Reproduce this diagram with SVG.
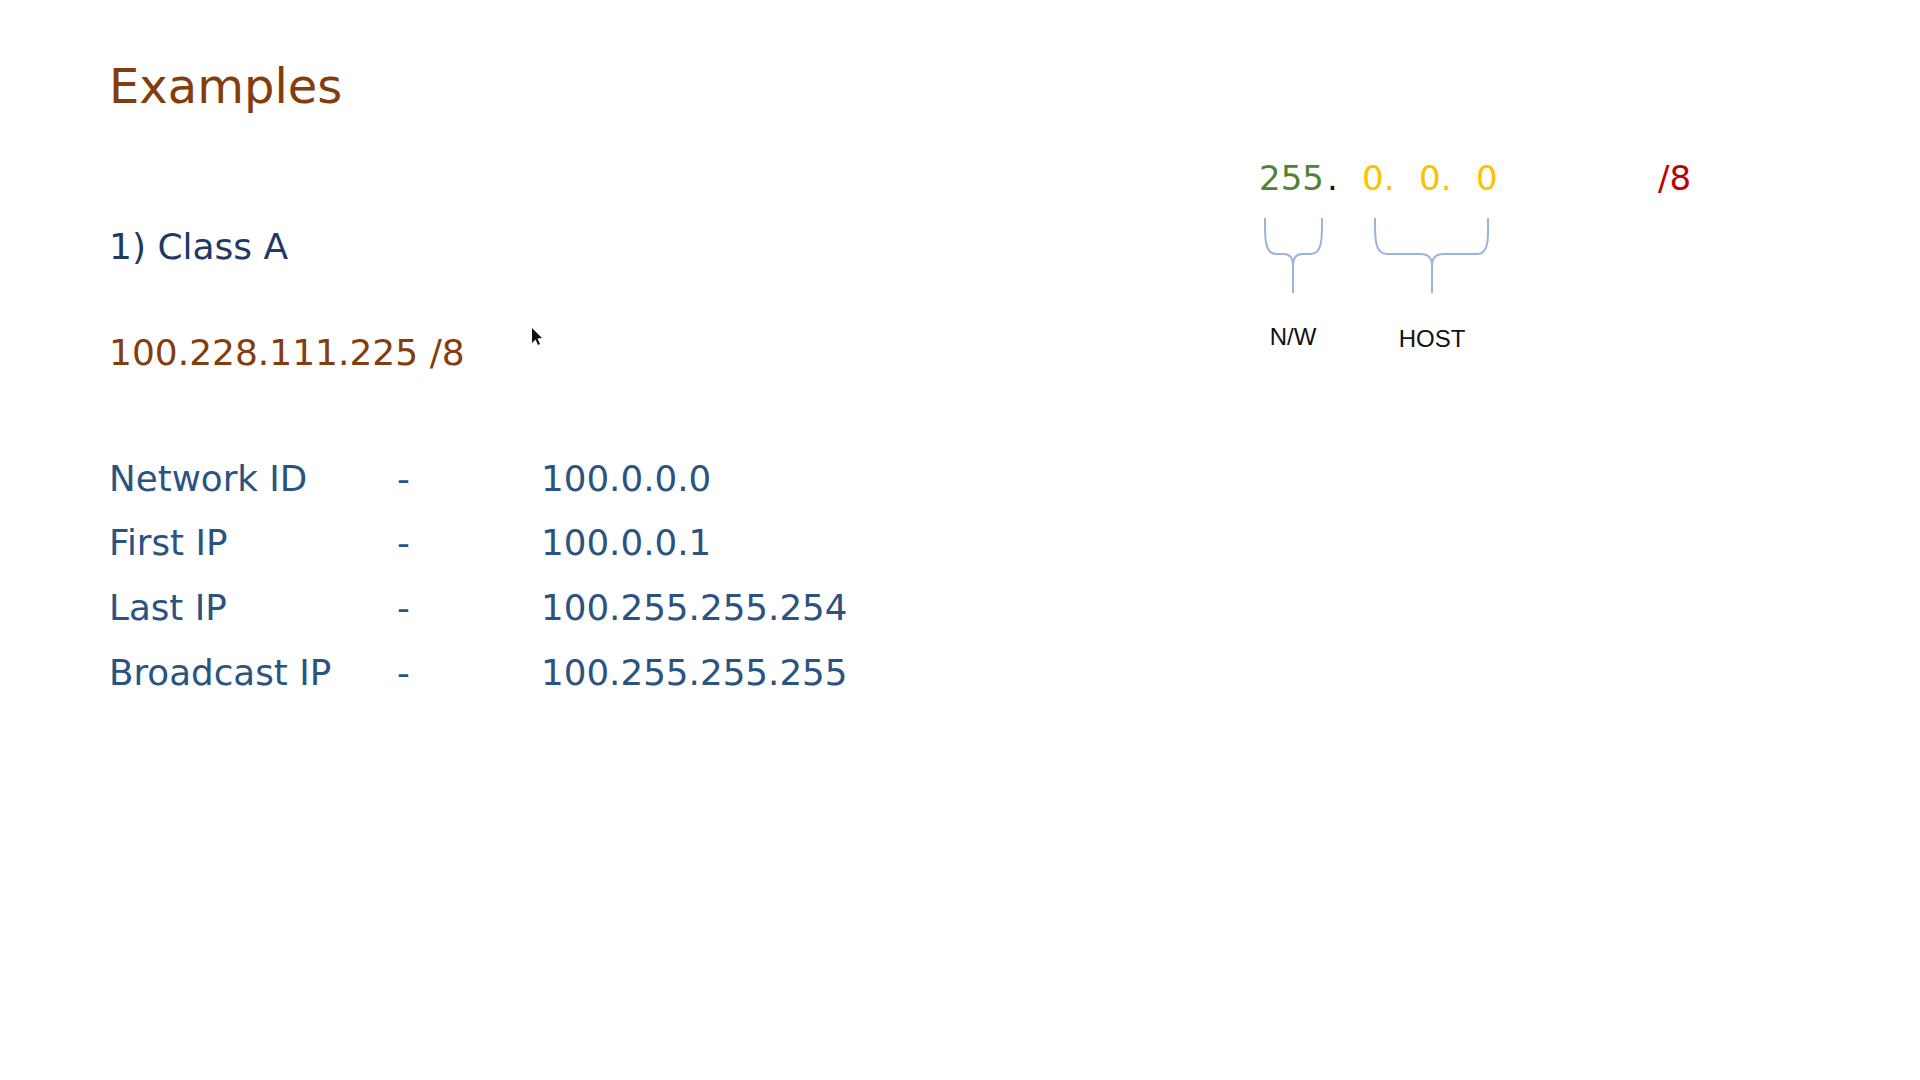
<svg xmlns="http://www.w3.org/2000/svg" width="1920" height="1080" viewBox="0 0 1920 1080">
<style>
text{font-family:"DejaVu Sans","Liberation Sans",sans-serif;}
.title{font-size:48px;fill:#843C0C;}
.h{font-size:36px;fill:#1F3864;}
.ip{font-size:36px;fill:#843C0C;}
.row{font-size:35.7px;fill:#2A5380;}
.mask{font-size:34px;}
.lbl{font-family:"Liberation Sans",Arial,sans-serif;font-size:24px;fill:#111;}
.brace{fill:none;stroke:#9BB3DD;stroke-width:2;}
</style>
<rect width="1920" height="1080" fill="#FFFFFF"/>
<g id="title"><text class="title" x="109" y="103">Examples</text></g>
<g id="heading"><text class="h" x="109" y="259">1) Class A</text></g>
<g id="address"><text class="ip" x="109" y="365">100.228.111.225 /8</text></g>
<g id="cursor"><path d="M532,328 L532,343 L535.5,339.5 L538,345 L540,344 L537.5,338.5 L542,338 Z" fill="#111"/></g>
<g id="rows">
<g id="row-network">
<text class="row" x="109" y="491">Network ID</text>
<text class="row" x="397" y="491">-</text>
<text class="row" x="541" y="491">100.0.0.0</text>
</g>
<g id="row-first">
<text class="row" x="109" y="555">First IP</text>
<text class="row" x="397" y="555">-</text>
<text class="row" x="541" y="555">100.0.0.1</text>
</g>
<g id="row-last">
<text class="row" x="109" y="620">Last IP</text>
<text class="row" x="397" y="620">-</text>
<text class="row" x="541" y="620">100.255.255.254</text>
</g>
<g id="row-broadcast">
<text class="row" x="109" y="685">Broadcast IP</text>
<text class="row" x="397" y="685">-</text>
<text class="row" x="541" y="685">100.255.255.255</text>
</g>
</g>
<g id="mask">
<text class="mask" x="1259" y="190" fill="#548235">255</text>
<text class="mask" x="1327" y="190" fill="#111">.</text>
<text class="mask" x="1362" y="190" fill="#FFC000">0.</text>
<text class="mask" x="1419" y="190" fill="#FFC000">0.</text>
<text class="mask" x="1476" y="190" fill="#FFC000">0</text>
<text class="mask" x="1658" y="190" fill="#C00000">/8</text>
</g>
<g id="connectors">
<path class="brace" d="M1265,218 C1265,235 1264,254 1276,254 L1284,254 Q1293,254 1293,266 L1293,293 M1293,266 Q1293,254 1302,254 L1311,254 C1323,254 1322,235 1322,218"/>
<path class="brace" d="M1375,218 C1375,235 1374,254 1387,254 L1421,254 Q1432,254 1432,266 L1432,293 M1432,266 Q1432,254 1443,254 L1477,254 C1490,254 1488,235 1488,218"/>
</g>
<g id="label-nw"><text class="lbl" x="1293" y="345" text-anchor="middle">N/W</text></g>
<g id="label-host"><text class="lbl" x="1432" y="347" text-anchor="middle">HOST</text></g>
</svg>
